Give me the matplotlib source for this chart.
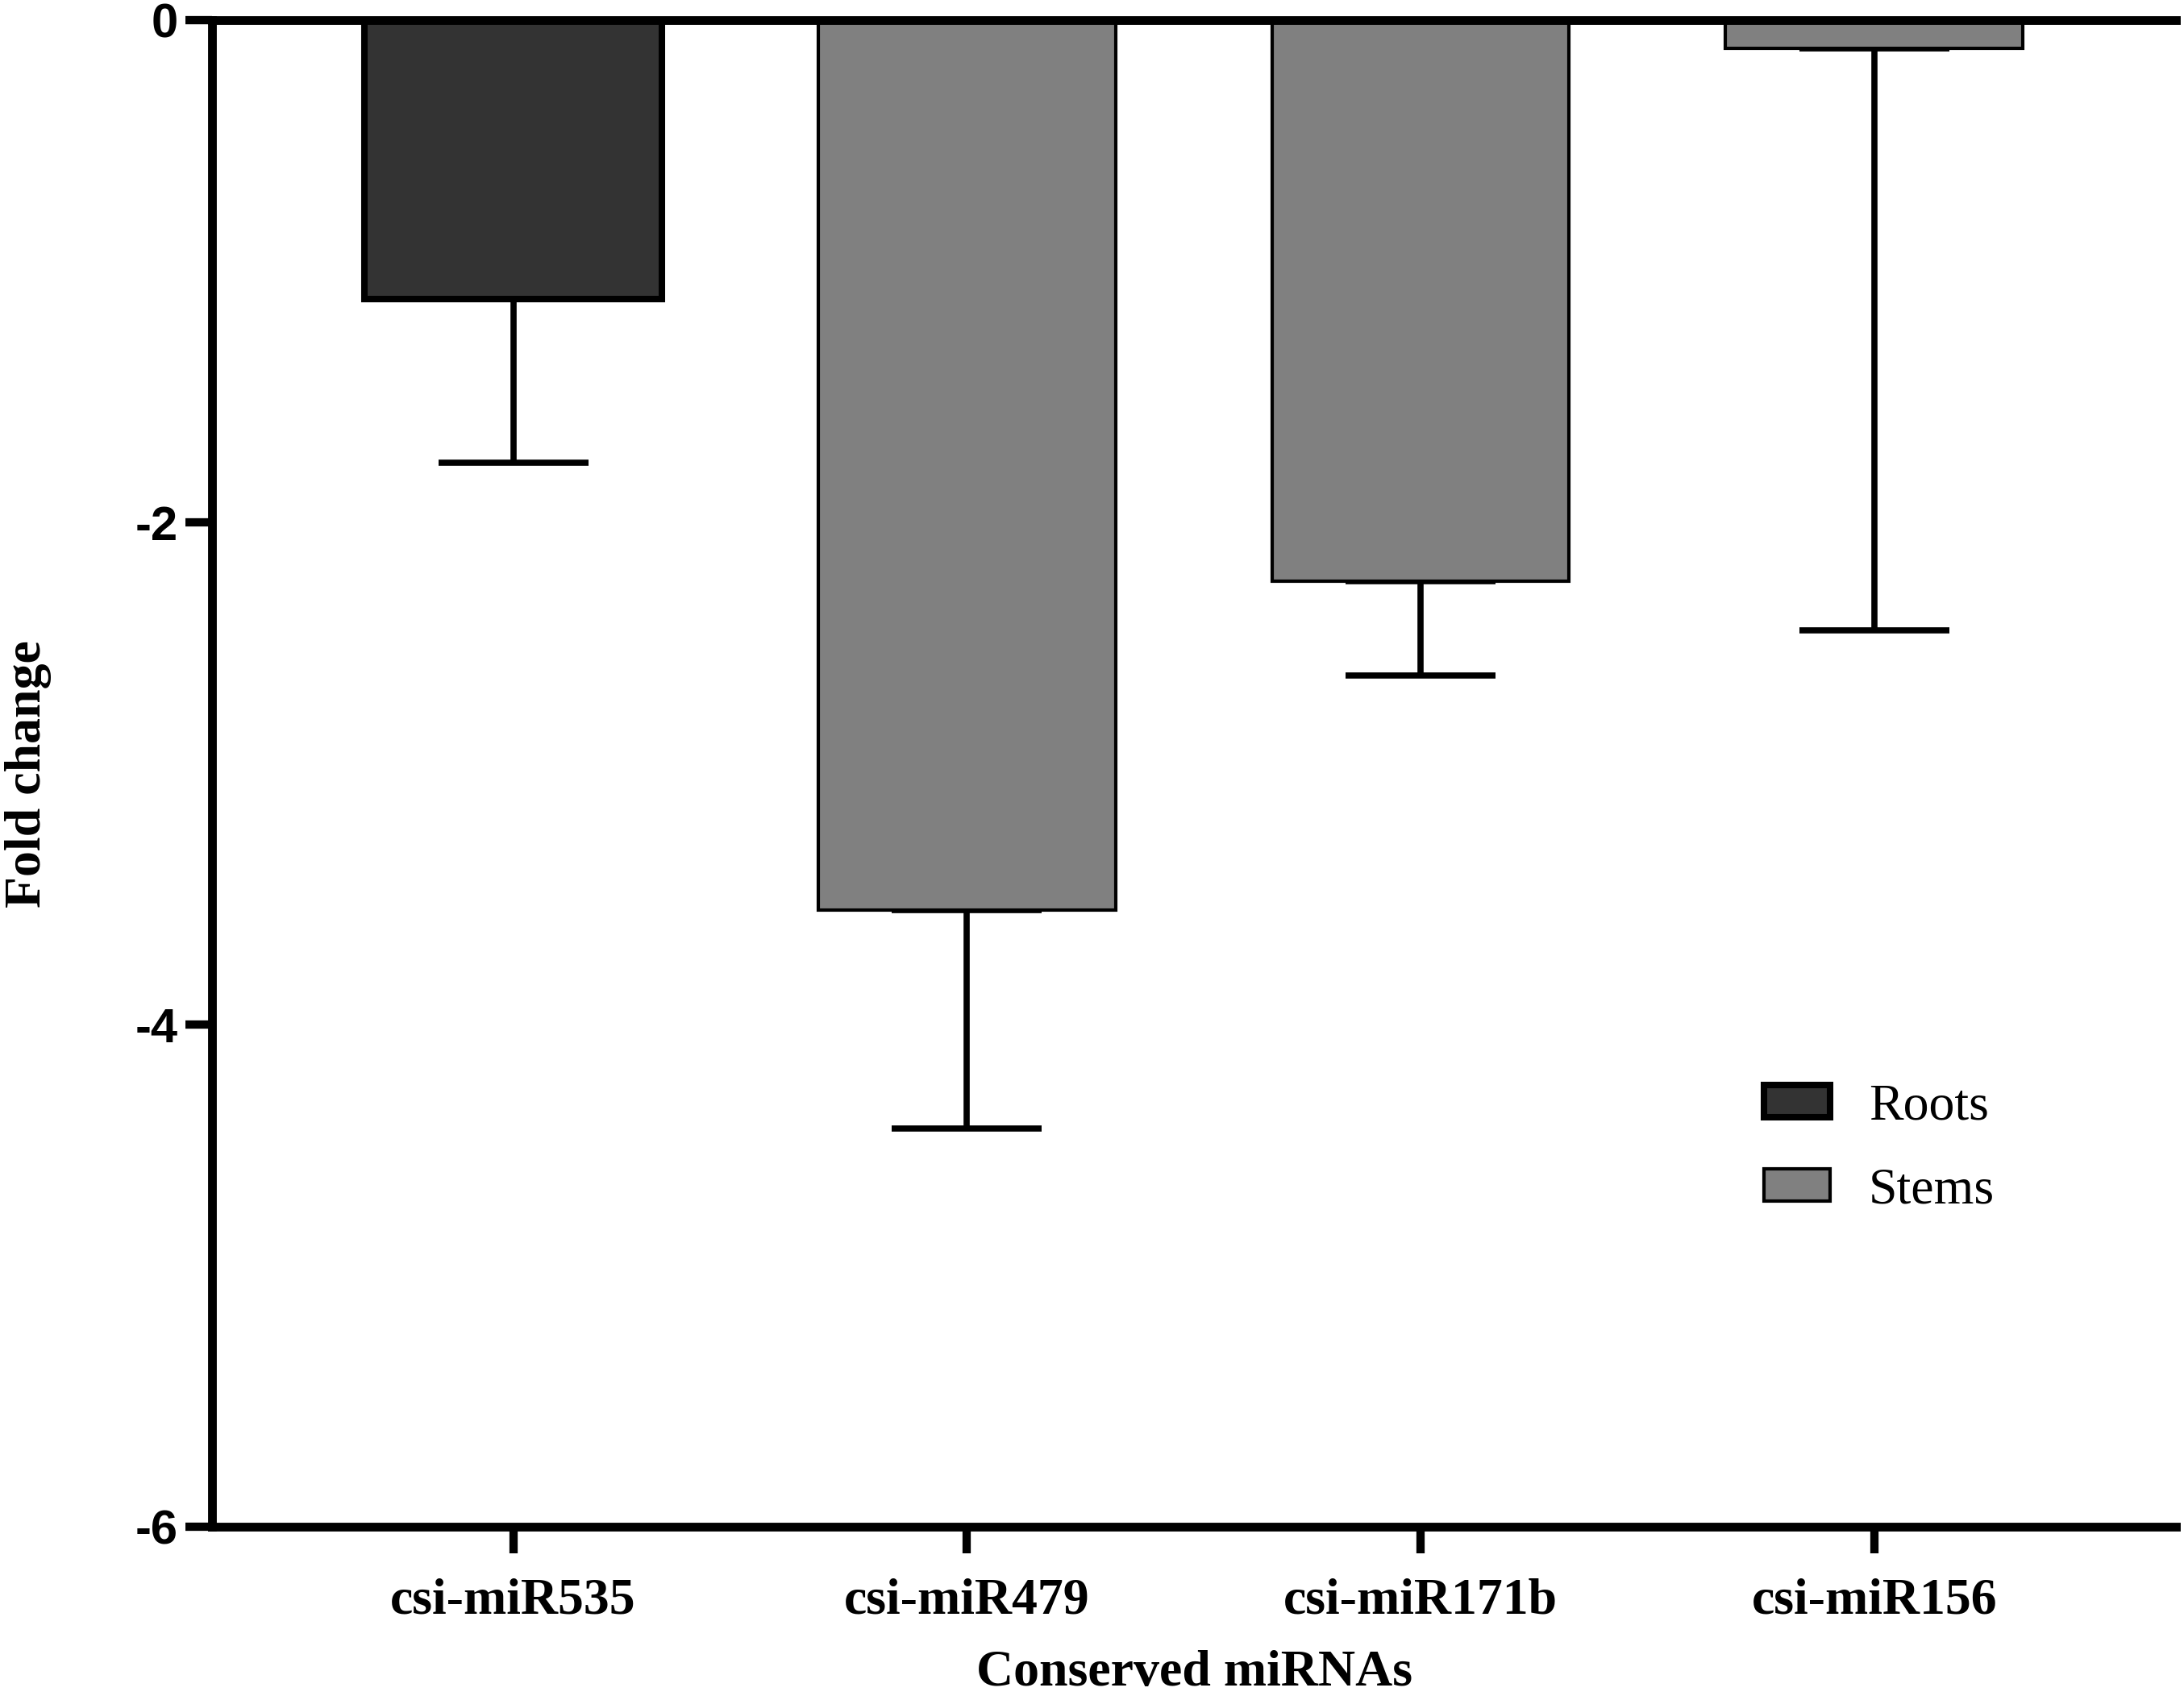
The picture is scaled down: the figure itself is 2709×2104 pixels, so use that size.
import numpy as np
import matplotlib.pyplot as plt
from matplotlib.patches import Patch

mirnas = ['csi-miR535', 'csi-miR479', 'csi-miR171b', 'csi-miR156']
tissue = ['Roots', 'Stems', 'Stems', 'Stems']
fold_change = [-1.11, -3.545, -2.235, -0.11]
fold_err = [0.65, 0.87, 0.373, 2.32]

fill = {'Roots': '#333333', 'Stems': '#808080'}
edge_w = {'Roots': 5.8, 'Stems': 3.0}

serif = ['Liberation Serif', 'DejaVu Serif']
sans = ['Liberation Sans', 'DejaVu Sans']

fig = plt.figure(figsize=(27.09, 21.04), dpi=100)
ax = fig.add_axes([0.0971, 0.0998, 0.8992, 0.8881])

x = np.arange(len(mirnas))
for t in ['Roots', 'Stems']:
    idx = [i for i, s in enumerate(tissue) if s == t]
    vals = [fold_change[i] for i in idx]
    errs = [fold_err[i] for i in idx]
    ax.errorbar(x[idx], vals, yerr=[errs, [0] * len(idx)], fmt='none',
                ecolor='black', elinewidth=5.5, capsize=67, capthick=5.5,
                zorder=1)
    ax.bar(x[idx], vals, width=0.655, color=fill[t], edgecolor='black',
           linewidth=edge_w[t], zorder=2)

ax.set_xlim(-0.664, 3.665)
ax.set_ylim(-6, 0)
ax.set_yticks([0, -2, -4, -6])
ax.set_yticklabels(['0', '-2', '-4', '-6'])
ax.set_xticks(x)
ax.set_xticklabels(mirnas, fontfamily=serif, fontweight='bold', fontsize=46)

for lab in ax.get_yticklabels():
    lab.set_fontfamily(sans)
    lab.set_fontweight('bold')
    lab.set_fontsize(43)

for side in ['left', 'top', 'bottom']:
    ax.spines[side].set_linewidth(7.8)
ax.spines['right'].set_visible(False)
ax.tick_params(axis='both', length=24, width=7.4, direction='out')
ax.tick_params(axis='y', pad=6.5)
ax.tick_params(axis='x', pad=22)

ax.set_xlabel('Conserved miRNAs', fontfamily=serif, fontweight='bold',
              fontsize=46)
ax.xaxis.set_label_coords(0.5, -0.0975)
ax.xaxis.label.set_va('center')
ax.set_ylabel('Fold change', fontfamily=serif, fontweight='bold', fontsize=46)
ax.yaxis.set_label_coords(-0.0936, 0.5)
ax.yaxis.label.set_va('center')

handles = [Patch(facecolor=fill['Roots'], edgecolor='black', linewidth=5.8),
           Patch(facecolor=fill['Stems'], edgecolor='black', linewidth=3.0)]
fig.legend(handles, ['Roots', 'Stems'], loc='center left',
           bbox_to_anchor=(0.8077, 0.3224), frameon=False, borderpad=0,
           borderaxespad=0, handlelength=1.28, handleheight=0.6,
           handletextpad=0.75, labelspacing=0.72,
           prop={'family': serif, 'size': 46})

fig.savefig('out.png', dpi=100)
